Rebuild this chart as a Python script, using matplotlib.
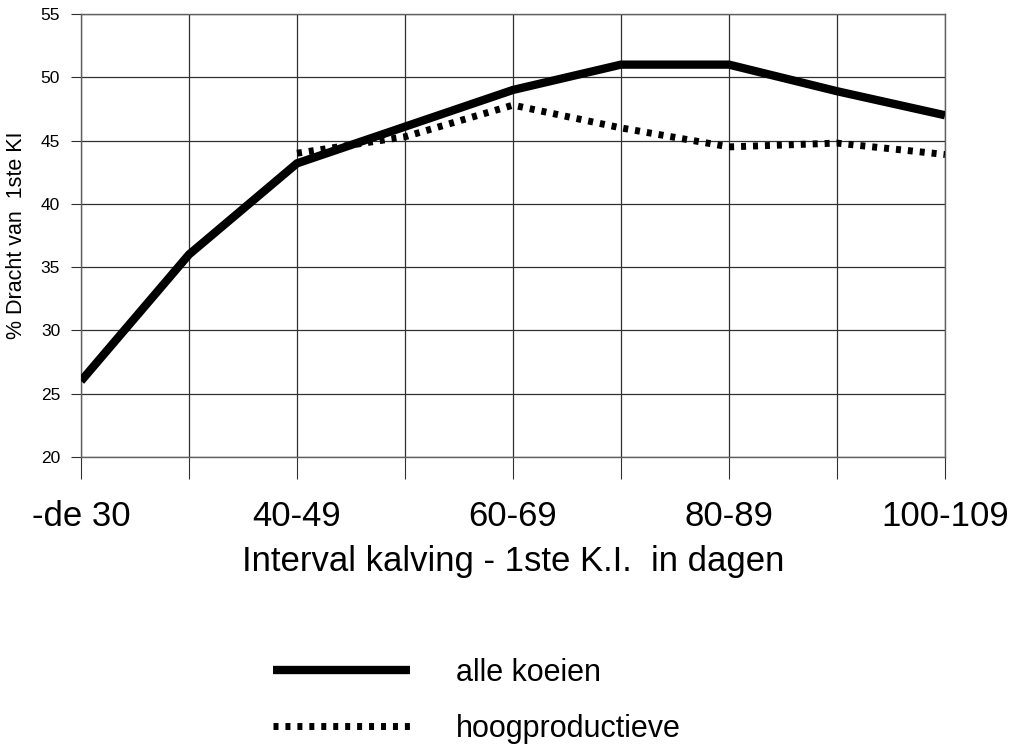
import numpy as np
import matplotlib
matplotlib.use("Agg")
import matplotlib.pyplot as plt

plt.rcParams['font.family'] = ['Liberation Sans', 'DejaVu Sans']

# categories on the x axis (interval in days)
categories = ['-de 30', '30-39', '40-49', '50-59', '60-69', '70-79', '80-89', '90-99', '100-109']
shown_labels = ['-de 30', '', '40-49', '', '60-69', '', '80-89', '', '100-109']

# % dracht van 1ste KI
alle_koeien = [26, 36, 43.2, 46.1, 49, 51, 51, 48.9, 47]
hoogproductieve = [np.nan, np.nan, 44, 45.3, 47.8, 46, 44.5, 44.8, 43.9]

y_ticks = [20, 25, 30, 35, 40, 45, 50, 55]

fig = plt.figure(figsize=(10.16, 7.46), dpi=100)
ax = fig.add_axes([81 / 1016, 1 - 457 / 746, 864 / 1016, 443 / 746])

x = np.arange(len(categories))
ax.plot(x, alle_koeien, color='black', lw=6, solid_capstyle='butt',
        solid_joinstyle='miter', label='alle koeien', zorder=3)
ax.plot(x, hoogproductieve, color='black', lw=5, linestyle=(0, (0.72, 1.0)),
        dash_capstyle='butt', label='hoogproductieve', zorder=3)

ax.set_xlim(0, 8)
ax.set_ylim(20, 55)
ax.set_xticks(x)
ax.set_xticklabels(shown_labels, fontsize=25)
ax.set_yticks(y_ticks)
ax.set_yticklabels([str(v) for v in y_ticks], fontsize=12.5)

ax.grid(True, color='#303030', lw=0.9)
ax.set_axisbelow(True)
for s in ax.spines.values():
    s.set_color('#606060')
    s.set_linewidth(1.0)

ax.tick_params(axis='x', length=16, width=0.8, color='#303030', pad=15)
ax.tick_params(axis='y', length=7, width=0.8, color='#303030', pad=8)

ax.set_xlabel('Interval kalving - 1ste K.I.  in dagen', fontsize=25)
ax.xaxis.set_label_coords(0.5, -0.199)
ax.set_ylabel('% Dracht van  1ste KI', fontsize=15.5)
ax.yaxis.set_label_coords(-0.063, 0.5)

leg = ax.legend(loc='center', bbox_to_anchor=(477 / 1016, 1 - 701 / 746),
                bbox_transform=fig.transFigure, frameon=False, fontsize=22,
                handlelength=4.5, handletextpad=1.5, labelspacing=0.85)

fig.savefig('out.png', dpi=100)
